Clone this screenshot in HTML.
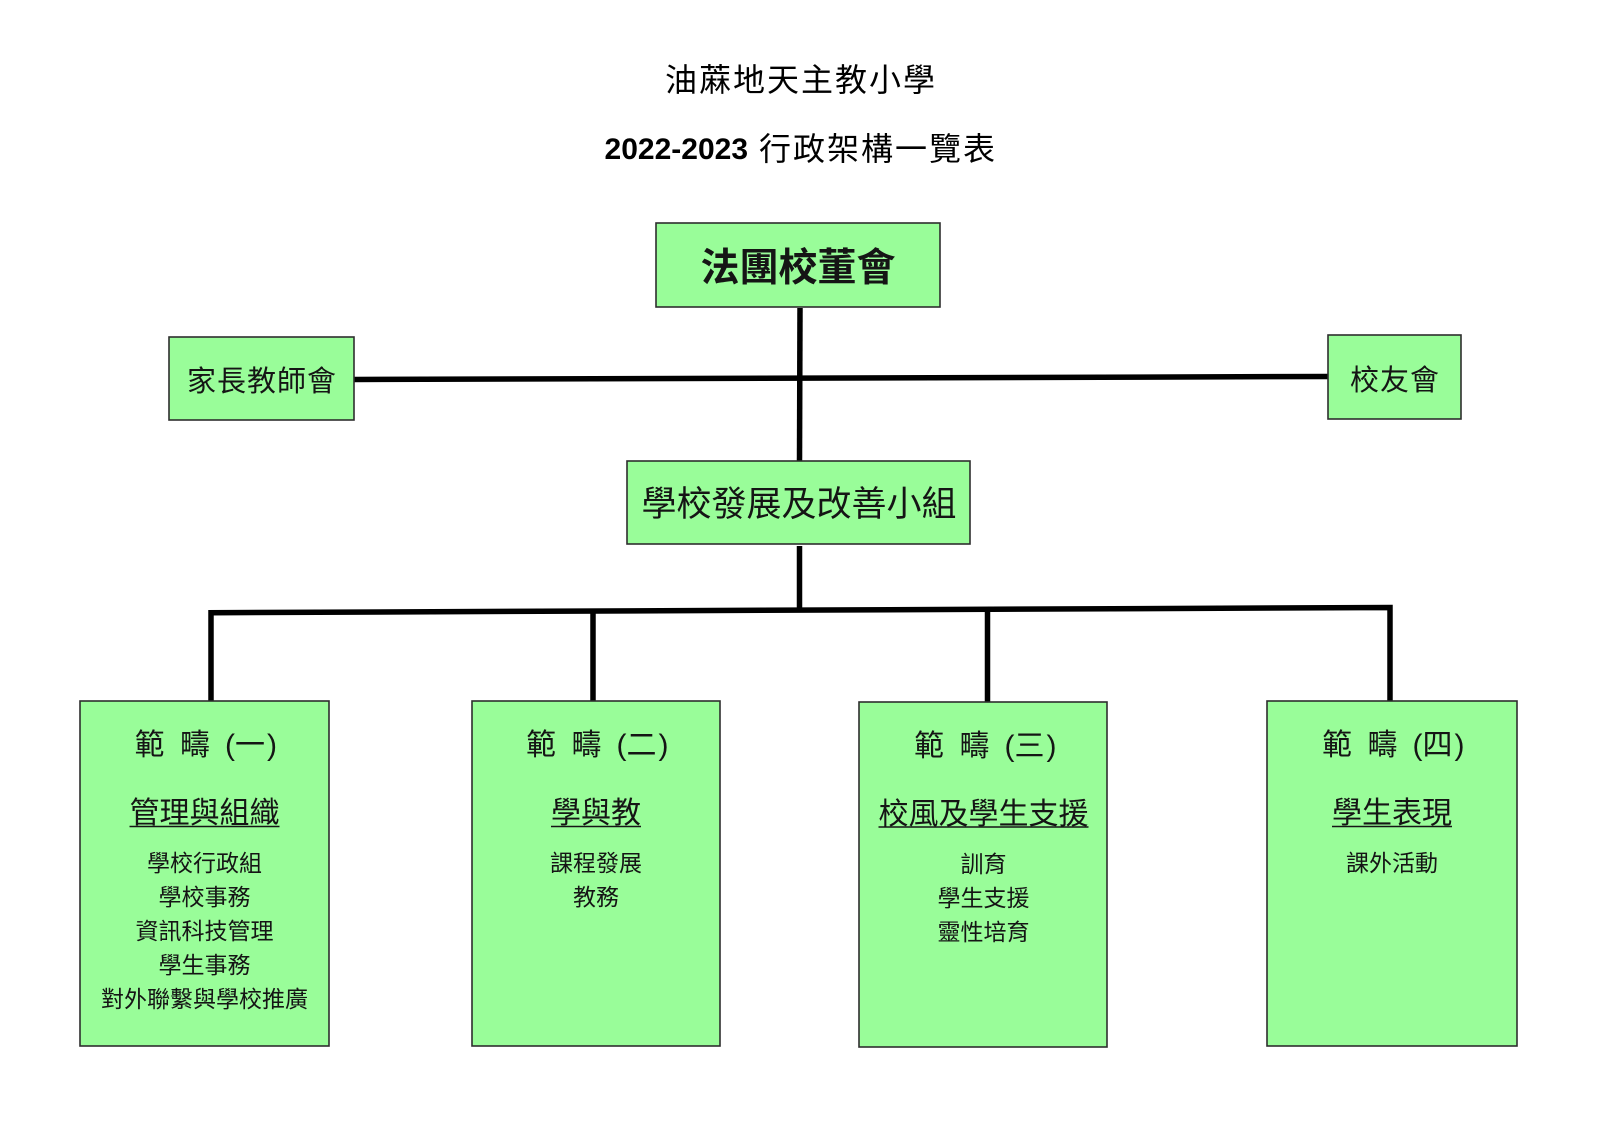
<!DOCTYPE html>
<html>
<head>
<meta charset="utf-8">
<style>
  html, body { margin:0; padding:0; background:#fff; }
  svg { display:block; }
  text { font-family: "Liberation Sans", "Noto Sans CJK TC", sans-serif; fill:#151515; }
</style>
</head>
<body>
<svg width="1600" height="1131" viewBox="0 0 1600 1131" xmlns="http://www.w3.org/2000/svg">
  <rect x="0" y="0" width="1600" height="1131" fill="#ffffff"/>

  <!-- Titles -->
  <text x="801" y="91" font-size="32" letter-spacing="2" text-anchor="middle" style="fill:#000">油蔴地天主教小學</text>
  <text x="748" y="159" font-size="30" font-weight="700" text-anchor="end" style="fill:#000">2022-2023</text>
  <text x="759" y="160" font-size="32" letter-spacing="2" text-anchor="start" style="fill:#000">行政架構一覽表</text>

  <!-- Connectors -->
  <g stroke="#000" stroke-width="5.5" fill="none" stroke-linejoin="miter" stroke-linecap="butt">
    <line x1="800" y1="308" x2="799.5" y2="463"/>
    <line x1="354" y1="379.5" x2="1328" y2="376.5"/>
    <line x1="799.5" y1="546" x2="799.5" y2="611"/>
    <polyline points="211,701 211,612.7 1390,607.5 1390,701"/>
    <line x1="593" y1="611" x2="593" y2="701"/>
    <line x1="987.5" y1="609.3" x2="987.5" y2="702"/>
  </g>

  <!-- Boxes -->
  <g fill="#99fd99" stroke="#2e2e2e" stroke-width="1.6">
    <rect x="656" y="223" width="284" height="84"/>
    <rect x="169" y="337" width="185" height="83"/>
    <rect x="1328" y="335" width="133" height="84"/>
    <rect x="627" y="461" width="343" height="83"/>
    <rect x="80" y="701" width="249" height="345"/>
    <rect x="472" y="701" width="248" height="345"/>
    <rect x="859" y="702" width="248" height="345"/>
    <rect x="1267" y="701" width="250" height="345"/>
  </g>

  <!-- Box labels -->
  <text x="798" y="281" font-size="39" font-weight="700" text-anchor="middle">法團校董會</text>
  <text x="262" y="391" font-size="29" letter-spacing="1" text-anchor="middle">家長教師會</text>
  <text x="1395" y="390" font-size="29" letter-spacing="1" text-anchor="middle">校友會</text>
  <text x="799" y="516" font-size="35" text-anchor="middle">學校發展及改善小組</text>

  <!-- Category 1 -->
  <g font-size="30" text-anchor="middle">
    <text x="149.5" y="755">範</text>
    <text x="195" y="755">疇</text>
    <text x="230" y="755">(</text>
    <text x="250" y="755">一</text>
    <text x="272" y="755">)</text>
  </g>
  <text x="204.5" y="823" font-size="30" text-anchor="middle">管理與組織</text>
  <line x1="129.5" y1="826.5" x2="279.5" y2="826.5" stroke="#151515" stroke-width="1.5"/>
  <g font-size="23" text-anchor="middle">
    <text x="204.5" y="871">學校行政組</text>
    <text x="204.5" y="905">學校事務</text>
    <text x="204.5" y="939">資訊科技管理</text>
    <text x="204.5" y="973">學生事務</text>
    <text x="204.5" y="1007">對外聯繫與學校推廣</text>
  </g>

  <!-- Category 2 -->
  <g font-size="30" text-anchor="middle">
    <text x="541" y="755">範</text>
    <text x="586.5" y="755">疇</text>
    <text x="621.5" y="755">(</text>
    <text x="641.5" y="755">二</text>
    <text x="663.5" y="755">)</text>
  </g>
  <text x="596" y="823" font-size="30" text-anchor="middle">學與教</text>
  <line x1="551" y1="826.5" x2="641" y2="826.5" stroke="#151515" stroke-width="1.5"/>
  <g font-size="23" text-anchor="middle">
    <text x="596" y="871">課程發展</text>
    <text x="596" y="905">教務</text>
  </g>

  <!-- Category 3 -->
  <g font-size="30" text-anchor="middle">
    <text x="929" y="756">範</text>
    <text x="974.5" y="756">疇</text>
    <text x="1009.5" y="756">(</text>
    <text x="1029.5" y="756">三</text>
    <text x="1051.5" y="756">)</text>
  </g>
  <text x="983.5" y="824" font-size="30" text-anchor="middle">校風及學生支援</text>
  <line x1="878.5" y1="827" x2="1088.5" y2="827" stroke="#151515" stroke-width="1.5"/>
  <g font-size="23" text-anchor="middle">
    <text x="983.5" y="872">訓育</text>
    <text x="983.5" y="906">學生支援</text>
    <text x="983.5" y="940">靈性培育</text>
  </g>

  <!-- Category 4 -->
  <g font-size="30" text-anchor="middle">
    <text x="1337" y="755">範</text>
    <text x="1382.5" y="755">疇</text>
    <text x="1417.5" y="755">(</text>
    <text x="1437.5" y="755">四</text>
    <text x="1459.5" y="755">)</text>
  </g>
  <text x="1392" y="823" font-size="30" text-anchor="middle">學生表現</text>
  <line x1="1332" y1="826.5" x2="1452" y2="826.5" stroke="#151515" stroke-width="1.5"/>
  <g font-size="23" text-anchor="middle">
    <text x="1392" y="871">課外活動</text>
  </g>
</svg>
</body>
</html>
